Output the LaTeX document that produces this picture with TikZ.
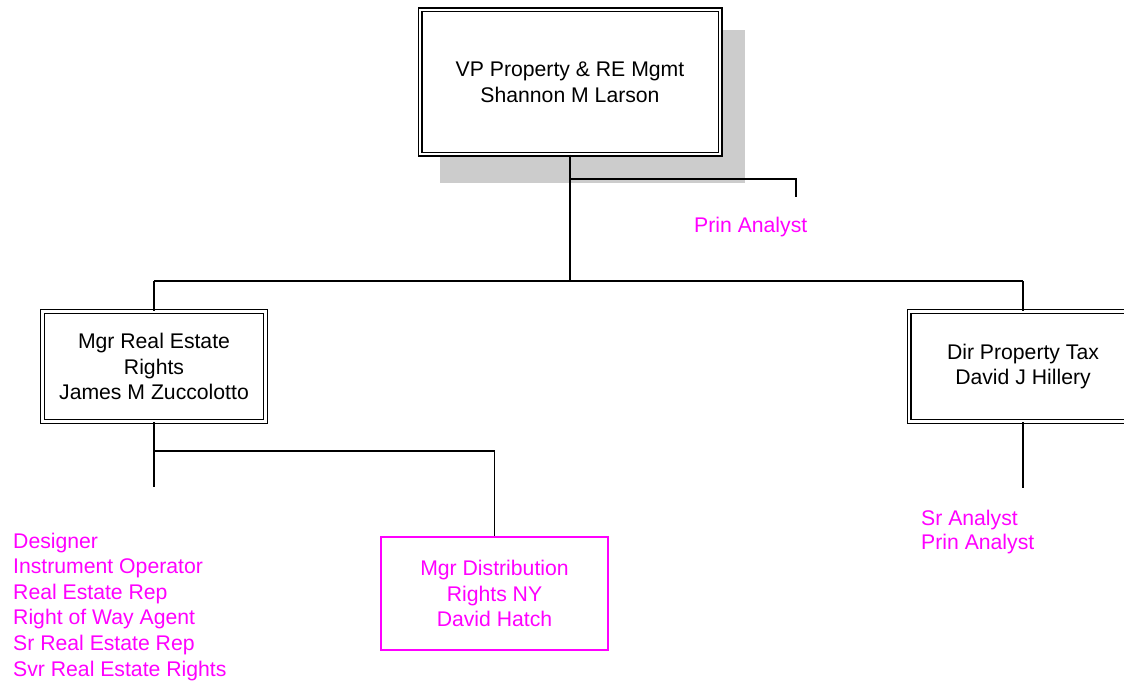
\documentclass[tikz,border=0pt]{standalone}
\usepackage{fontspec}
\setmainfont{Liberation Sans}
\definecolor{pinkt}{RGB}{255,0,255}
\definecolor{shadowgray}{RGB}{204,204,204}
\begin{document}
\begin{tikzpicture}[x=1pt,y=-1pt,
  every node/.style={font=\fontsize{21.2}{25.6}\selectfont, inner sep=0pt},
  dbox/.style={draw=black, double=white, double distance=2.2pt, line width=1.4pt,
    fill=white, rectangle, align=center},
  pbox/.style={draw=pinkt, line width=1.5pt, text=pinkt, rectangle, align=center,
    minimum width=227pt, minimum height=113pt},
  ptext/.style={text=pinkt, align=left},
  conn/.style={draw=black, line width=1.5pt}]
\useasboundingbox (0,0) rectangle (1124,685);
% shadow
\fill[shadowgray] (440,30) rectangle (745,183);
% boxes
\node[dbox, minimum width=300pt, minimum height=144pt] (vp) at (570,82)
  {VP Property \& RE Mgmt\\Shannon M Larson};
\node[dbox, minimum width=223pt, minimum height=110pt] (mgr) at (154,366.5)
  {Mgr Real Estate\\Rights\\James M Zuccolotto};
\node[dbox, minimum width=228pt, minimum height=110pt] (dir) at (1023,366.5)
  {Dir Property Tax\\David J Hillery};
\node[pbox] (dist) at (494.5,593.5) {Mgr Distribution\\Rights NY\\David Hatch};
% texts
\node[ptext, anchor=base west] (pa) at (694,232) {Prin Analyst};
\node[ptext, anchor=base west] (list) at (13,676)
  {Designer\\Instrument Operator\\Real Estate Rep\\Right of Way Agent\\Sr Real Estate Rep\\Svr Real Estate Rights};
\node[ptext, anchor=base west, font=\fontsize{21.2}{24.3}\selectfont] (tax) at (921,549.3) {Sr Analyst\\Prin Analyst};
% coordinates
\coordinate (j1) at (570,179);
\coordinate (j1e) at (796,179);
\coordinate (pae) at (796,197);
\coordinate (bus) at (570,281);
\coordinate (busl) at (154,281);
\coordinate (busr) at (1023,281);
\coordinate (ml) at (154,451);
\coordinate (mle) at (154,487);
\coordinate (mr) at (494.5,451);
\coordinate (dre) at (1023,488);
% connectors
\draw[conn] (vp.south) -- (bus);
\draw[conn] (j1) -- (j1e) -- (pae);
\draw[conn] (busl) -- (busr);
\draw[conn] (busl) -- (mgr.north);
\draw[conn] (busr) -- (dir.north);
\draw[conn] (mgr.south) -- (mle);
\draw[conn] (ml) -- (mr) -- (dist.north);
\draw[conn] (dir.south) -- (dre);
\end{tikzpicture}
\end{document}
